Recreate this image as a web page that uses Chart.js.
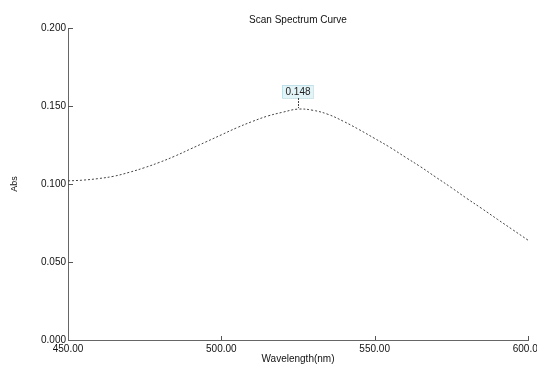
<!DOCTYPE html>
<html>
<head>
<meta charset="utf-8">
<script src="https://cdn.jsdelivr.net/npm/chart.js@4"></script>
<style>
  body { margin: 0; background: #fff; }
  #wrap { width: 537px; height: 365px; }
</style>
</head>
<body>
<div id="wrap"><canvas id="scanChart"></canvas></div>
<script>
// wavelength (nm) and absorbance
const wavelengths = [450, 455, 460, 465, 470, 475, 480, 485, 490, 495, 500, 505, 510, 515, 520, 525,
    530, 535, 540, 545, 550, 555, 560, 565, 570, 575, 580, 585, 590, 595, 600];
const absorbance = [0.102, 0.1025, 0.1035, 0.105, 0.1075, 0.1105, 0.114, 0.118, 0.1225, 0.127, 0.1315,
    0.136, 0.140, 0.1435, 0.146, 0.148, 0.1472, 0.1445, 0.140, 0.1348, 0.1292, 0.1235, 0.1172, 0.111,
    0.1043, 0.0977, 0.0908, 0.0842, 0.0774, 0.0707, 0.064];
const xTicks = [450, 500, 550, 600];
const yTicks = [0, 0.05, 0.1, 0.15, 0.2];

const points = wavelengths.map((w, i) => ({ x: w, y: absorbance[i] }));

// small tick marks pointing into the plot, like the instrument printout
const innerTicks = {
    id: 'innerTicks',
    afterDraw(chart) {
        const ctx = chart.ctx;
        const xs = chart.scales.x, ys = chart.scales.y;
        ctx.save();
        ctx.strokeStyle = '#555';
        ctx.lineWidth = 1;
        ctx.beginPath();
        xTicks.slice(1).forEach(v => {
            const px = Math.round(xs.getPixelForValue(v)) + 0.5;
            ctx.moveTo(px, ys.bottom);
            ctx.lineTo(px, ys.bottom - 4);
        });
        yTicks.slice(1).forEach(v => {
            const py = Math.round(ys.getPixelForValue(v)) + 0.5;
            ctx.moveTo(xs.left, py);
            ctx.lineTo(xs.left + 5, py);
        });
        ctx.stroke();
        ctx.restore();
    }
};

// peak label box
const peakLabel = {
    id: 'peakLabel',
    afterDatasetsDraw(chart) {
        const ctx = chart.ctx;
        let iMax = 0;
        absorbance.forEach((v, i) => { if (v > absorbance[iMax]) iMax = i; });
        const px = chart.scales.x.getPixelForValue(wavelengths[iMax]);
        const py = chart.scales.y.getPixelForValue(absorbance[iMax]);
        const text = absorbance[iMax].toFixed(3);
        ctx.save();
        ctx.font = '10px "Liberation Sans", Arial, sans-serif';
        const w = ctx.measureText(text).width + 6;
        const h = 13;
        const bx = Math.round(px - w / 2), by = Math.round(py - 11 - h);
        ctx.fillStyle = '#e3f4f8';
        ctx.fillRect(bx, by, w, h);
        ctx.strokeStyle = '#9ccfd8';
        ctx.setLineDash([1, 1]);
        ctx.strokeRect(bx + 0.5, by + 0.5, w, h);
        ctx.strokeStyle = '#444';
        ctx.setLineDash([2, 1]);
        ctx.beginPath();
        ctx.moveTo(Math.round(px) + 0.5, by + h);
        ctx.lineTo(Math.round(px) + 0.5, py - 1);
        ctx.stroke();
        ctx.setLineDash([]);
        ctx.fillStyle = '#222';
        ctx.textAlign = 'center';
        ctx.textBaseline = 'middle';
        ctx.fillText(text, px, by + h / 2 + 1);
        ctx.restore();
    }
};

const scanCtx = document.getElementById('scanChart').getContext('2d');
const scanConfig = {
    type: 'line',
    data: {
        datasets: [{
            label: 'Abs',
            data: points,
            borderColor: '#444',
            borderWidth: 1,
            borderDash: [2, 2],
            pointRadius: 0,
            fill: false,
            tension: 0.4
        }]
    },
    options: {
        responsive: true,
        maintainAspectRatio: false,
        animation: false,
        layout: { padding: { left: 0, right: 9, top: 0, bottom: 0 } },
        plugins: {
            legend: { display: false },
            tooltip: { enabled: false },
            title: {
                display: true,
                text: 'Scan Spectrum Curve',
                fullSize: false,
                color: '#111',
                font: { family: '"Liberation Sans", Arial, sans-serif', size: 10, weight: 'normal' },
                padding: { top: 14, bottom: 2 }
            }
        },
        scales: {
            x: {
                type: 'linear',
                min: 450,
                max: 600,
                afterBuildTicks: s => { s.ticks = xTicks.map(v => ({ value: v })); },
                afterFit: s => { s.height = 25; s.paddingLeft = 0; s.paddingRight = 0; },
                grid: { display: false, drawTicks: false },
                border: { display: true, color: '#666', width: 1 },
                ticks: {
                    padding: 3,
                    color: '#111',
                    font: { family: '"Liberation Sans", Arial, sans-serif', size: 10 },
                    callback: v => Number(v).toFixed(2),
                    autoSkip: false,
                    maxRotation: 0
                },
                title: {
                    display: true,
                    text: 'Wavelength(nm)',
                    color: '#111',
                    font: { family: '"Liberation Sans", Arial, sans-serif', size: 10 },
                    padding: { top: 0, bottom: 0 }
                }
            },
            y: {
                min: 0,
                max: 0.2,
                afterBuildTicks: s => { s.ticks = yTicks.map(v => ({ value: v })); },
                afterFit: s => { s.width = 68; },
                grid: { display: false, drawTicks: false },
                border: { display: true, color: '#666', width: 1 },
                ticks: {
                    padding: 2,
                    color: '#111',
                    font: { family: '"Liberation Sans", Arial, sans-serif', size: 10 },
                    callback: v => Number(v).toFixed(3)
                },
                title: {
                    display: true,
                    text: 'Abs',
                    color: '#111',
                    font: { family: '"Liberation Sans", Arial, sans-serif', size: 9 },
                    padding: { top: 9, bottom: 0 }
                }
            }
        }
    },
    plugins: [innerTicks, peakLabel]
};

const scanChart = new Chart(scanCtx, scanConfig);
</script>
</body>
</html>
